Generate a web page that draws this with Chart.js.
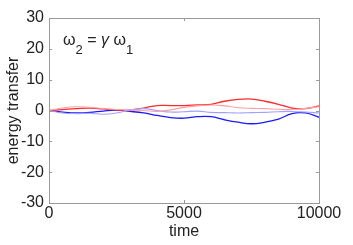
<!DOCTYPE html>
<html>
<head>
<meta charset="utf-8">
<script src="https://cdn.jsdelivr.net/npm/chart.js@4"></script>
<style>
  body { margin: 0; background: #fff; }
  #wrap { width: 353px; height: 245px; }
</style>
</head>
<body>
<div id="wrap"><canvas id="energyChart" width="353" height="245"></canvas></div>
<script>
// time samples and the four energy transfer curves
const times = [0, 500, 1000, 1500, 2000, 2500, 3000, 3500, 4000, 4500, 5000,
               5500, 6000, 6500, 7000, 7500, 8000, 8500, 9000, 9500, 10000];
const redSolid = [0, 0.3, 0.6, 0.8, 0.5, 0.2, 0.1, 0.8, 1.6, 1.6, 1.6,
                  1.8, 2.0, 3.0, 3.6, 3.7, 3.0, 2.0, 0.8, 0.6, 1.5];
const blueSolid = [0, -0.5, -0.8, -0.6, -0.2, 0.1, -0.3, -0.8, -1.6, -2.3, -2.5,
                   -2.0, -2.0, -3.0, -3.8, -4.3, -3.8, -2.8, -1.0, -0.8, -2.2];
const redPale = [0, 0.8, 1.2, 1.0, 0.6, 0.3, 0.2, 0.0, -0.3, 0.2, 1.0,
                 1.5, 1.8, 1.5, 0.9, 0.7, 0.6, 0.4, 0.3, 0.7, 1.2];
const bluePale = [0, -0.8, -1.0, -0.9, -1.2, -0.8, 0.2, 0.6, 0.0, -0.5, -0.4,
                  -0.2, -0.6, -0.7, -0.8, -0.7, -0.6, -0.4, -0.3, -0.5, -0.8];
const yTicks = [-30, -20, -10, 0, 10, 20, 30];
const xTicks = [0, 5000, 10000];

const FONT = "'Liberation Sans', Arial, sans-serif";

function toPoints(values) {
    return times.map((t, i) => ({ x: t, y: values[i] }));
}

function lineSet(values, color, width) {
    return {
        data: toPoints(values),
        borderColor: color,
        borderWidth: width,
        pointRadius: 0,
        tension: 0.4,
        fill: false
    };
}

// box around the plot, inward ticks on all four sides, and the formula text
const frameAndText = {
    id: 'frameAndText',
    afterDatasetsDraw(chart) {
        const ctx = chart.ctx;
        const a = chart.chartArea;
        const xs = chart.scales.x, ys = chart.scales.y;
        ctx.save();
        ctx.strokeStyle = '#9a9a9a';
        ctx.lineWidth = 1;
        ctx.strokeRect(a.left + 0.5, a.top + 0.5, a.right - a.left, a.bottom - a.top);
        ctx.beginPath();
        yTicks.forEach(v => {
            const py = Math.round(ys.getPixelForValue(v)) + 0.5;
            ctx.moveTo(a.left, py); ctx.lineTo(a.left + 3, py);
            ctx.moveTo(a.right, py); ctx.lineTo(a.right - 3, py);
        });
        xTicks.forEach(v => {
            const px = Math.round(xs.getPixelForValue(v)) + 0.5;
            ctx.moveTo(px, a.bottom); ctx.lineTo(px, a.bottom - 3);
            ctx.moveTo(px, a.top); ctx.lineTo(px, a.top + 3);
        });
        ctx.stroke();

        // omega_2 = gamma omega_1
        ctx.fillStyle = '#222';
        ctx.textBaseline = 'alphabetic';
        let x = a.left + 14;
        const base = a.top + 27;
        const parts = [
            ['ω', '16px ' + FONT, 0],
            ['2', '13px ' + FONT, 9],
            [' = ', '16px ' + FONT, 0],
            ['γ', 'italic 16px ' + FONT, 0],
            [' ω', '16px ' + FONT, 0],
            ['1', '13px ' + FONT, 9]
        ];
        parts.forEach(([txt, font, dy]) => {
            ctx.font = font;
            ctx.fillText(txt, x, base + dy);
            x += ctx.measureText(txt).width;
        });
        ctx.restore();
    }
};

new Chart(document.getElementById('energyChart').getContext('2d'), {
    type: 'line',
    data: {
        datasets: [
            lineSet(redPale, '#ffa0a0', 1.1),
            lineSet(bluePale, '#a0a0ff', 1.1),
            lineSet(redSolid, '#ff2a2a', 1.3),
            lineSet(blueSolid, '#1a1aff', 1.3)
        ]
    },
    options: {
        responsive: false,
        animation: false,
        layout: { padding: { top: 18, right: 34, left: 0, bottom: 0 } },
        plugins: { legend: { display: false }, tooltip: { enabled: false } },
        scales: {
            x: {
                type: 'linear',
                min: 0, max: 10000,
                afterBuildTicks: s => { s.ticks = xTicks.map(v => ({ value: v })); },
                afterFit: s => { s.height = 42; },
                grid: { display: false, drawTicks: false },
                border: { display: false },
                ticks: {
                    color: '#222', font: { family: FONT, size: 16 }, padding: 1, maxRotation: 0,
                    callback: v => String(v)
                },
                title: { display: true, text: 'time', color: '#222', font: { family: FONT, size: 16 }, padding: { top: -3 } }
            },
            y: {
                min: -30, max: 30,
                afterBuildTicks: s => { s.ticks = yTicks.map(v => ({ value: v })); },
                afterFit: s => { s.width = 49; },
                grid: { display: false, drawTicks: false },
                border: { display: false },
                ticks: { color: '#222', font: { family: FONT, size: 16 }, padding: 5, callback: v => String(v) },
                title: { display: true, text: 'energy transfer', color: '#222', font: { family: FONT, size: 16 }, padding: { bottom: 0 } }
            }
        }
    },
    plugins: [frameAndText]
});
</script>
</body>
</html>
